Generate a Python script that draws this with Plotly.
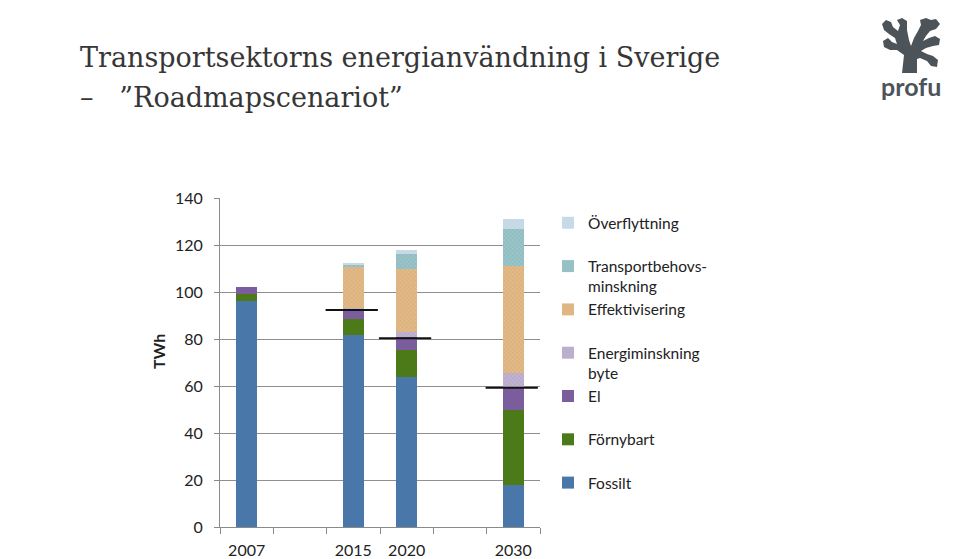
import plotly.graph_objects as go

# ---- data ----
categories = ["2007", " ", "2015", "2020", "  ", "2030"]
years = ["2007", "2015", "2020", "2030"]
fossilt = [96, 81.5, 64, 18]
fornybart = [3, 7, 11.5, 32]
el = [3, 4, 5.5, 9.5]
energiminskning_byte = [0, 0.5, 2, 6]
effektivisering = [0, 18, 27, 45.5]
transportbehov = [0, 0.7, 6, 16]
overflyttning = [0, 0.3, 2, 4]
ref_years = ["2015", "2020", "2030"]
ref_levels = [92.3, 80.3, 59.3]

series = [
    ("Fossilt<br>\u00a0", fossilt, "#4a77aa", None),
    ("Förnybart<br>\u00a0", fornybart, "#4c7a18", None),
    ("El<br>\u00a0", el, "#7b5c9c", None),
    ("Energiminskning<br>byte", energiminskning_byte, "#b9aacb", "x"),
    ("Effektivisering<br>\u00a0", effektivisering, "#ddb27c", "x"),
    ("Transportbehovs-<br>minskning", transportbehov, "#8fbdc2", "x"),
    ("Överflyttning<br>\u00a0", overflyttning, "#c3d7e5", "x"),
]

# plot-area geometry in pixels (used only for decorations)
L, R, T, B = 220, 540, 198, 527


def px(x):
    return (x - L) / (R - L)


def py(y):
    return (B - y) / (B - T)


fig = go.Figure()
for name, vals, color, pat in series:
    marker = dict(color=color, line=dict(width=0))
    if pat:
        marker["pattern"] = dict(shape=pat, size=3, solidity=0.3, fillmode="overlay",
                                 fgcolor="#ffffff", fgopacity=0.25)
    fig.add_trace(go.Bar(x=years, y=vals, name=name, marker=marker, width=0.39,
                         hovertemplate="%{x}: %{y} TWh<extra></extra>"))

for yr, lvl in zip(ref_years, ref_levels):
    idx = categories.index(yr)
    fig.add_shape(type="line", xref="x", yref="y", x0=idx - 0.52, x1=idx + 0.46,
                  y0=lvl, y1=lvl, line=dict(color="#111111", width=2))

# logo (decorative tree + name)
tree_pts = [(902, 73), (904, 55), (897, 50), (890, 50), (884, 47), (883, 41), (888, 38),
            (892, 42), (897, 44), (895, 38), (889, 34), (884, 30), (882, 24), (886, 20),
            (891, 22), (893, 27), (898, 31), (900, 25), (897, 20), (902, 18), (907, 21),
            (907, 30), (909, 40), (911, 46), (914, 38), (918, 31), (921, 25), (920, 20),
            (926, 18), (931, 20), (936, 19), (940, 24), (936, 29), (930, 31), (926, 36),
            (923, 41), (929, 38), (935, 36), (940, 39), (939, 45), (933, 46), (926, 48),
            (921, 51), (927, 54), (933, 56), (938, 60), (937, 67), (931, 66), (927, 61),
            (920, 58), (917, 59), (917, 73)]
tree_path = "M " + " L ".join(f"{px(a):.4f} {py(b):.4f}" for a, b in tree_pts) + " Z"
fig.add_shape(type="path", xref="paper", yref="paper", path=tree_path,
              fillcolor="#4d5459", line=dict(width=0))
fig.add_annotation(xref="paper", yref="paper", x=px(911), y=py(86), xanchor="center",
                   yanchor="middle", text="<b>profu</b>", showarrow=False,
                   font=dict(family="Lato", size=25, color="#4d5459"))

# title lines
fig.add_annotation(xref="paper", yref="paper", x=px(78), y=py(57), xanchor="left",
                   yanchor="middle", showarrow=False,
                   text="Transportsektorns energianvändning i Sverige",
                   font=dict(family="DejaVu Serif", size=27, color="#363636"))
fig.add_annotation(xref="paper", yref="paper", x=px(78), y=py(97), xanchor="left",
                   yanchor="middle", showarrow=False,
                   text="–\u00a0\u00a0 ”Roadmapscenariot”",
                   font=dict(family="DejaVu Serif", size=27, color="#363636"))

# y-axis title
fig.add_annotation(xref="paper", yref="paper", x=px(158), y=py(352), textangle=-90,
                   xanchor="center", yanchor="middle", showarrow=False, text="<b>TWh</b>",
                   font=dict(family="Lato", size=16, color="#222222"))

fig.update_layout(
    width=960, height=559,
    margin=dict(l=L, r=960 - R, t=T, b=559 - B),
    barmode="stack", bargap=0.61,
    plot_bgcolor="white", paper_bgcolor="white",
    font=dict(family="Lato", size=16, color="#222222"),
    xaxis=dict(type="category", categoryorder="array", categoryarray=categories,
               range=[-0.5, 5.5], tickson="boundaries", ticks="outside", ticklen=6,
               tickcolor="#8a8a8a", showline=True, linecolor="#8a8a8a", showgrid=False,
               tickfont=dict(size=16, color="#222222"), ticklabelstandoff=9,
               automargin=False),
    yaxis=dict(range=[0, 140], dtick=20, ticks="outside", ticklen=5, tickcolor="#8a8a8a",
               showline=True, linecolor="#8a8a8a", showgrid=True, gridcolor="#8f8f8f",
               gridwidth=1, zeroline=False, tickfont=dict(size=16, color="#222222"),
               ticklabelstandoff=8, automargin=False),
    legend=dict(x=1.025, y=0.975, xanchor="left", yanchor="top", traceorder="reversed",
                valign="top", tracegroupgap=0, itemwidth=30, bgcolor="rgba(0,0,0,0)",
                font=dict(size=15.5, color="#222222")),
    showlegend=True,
)

fig.write_html("out.html", config={"displayModeBar": False},
               post_script="document.body.style.margin='0px';")
